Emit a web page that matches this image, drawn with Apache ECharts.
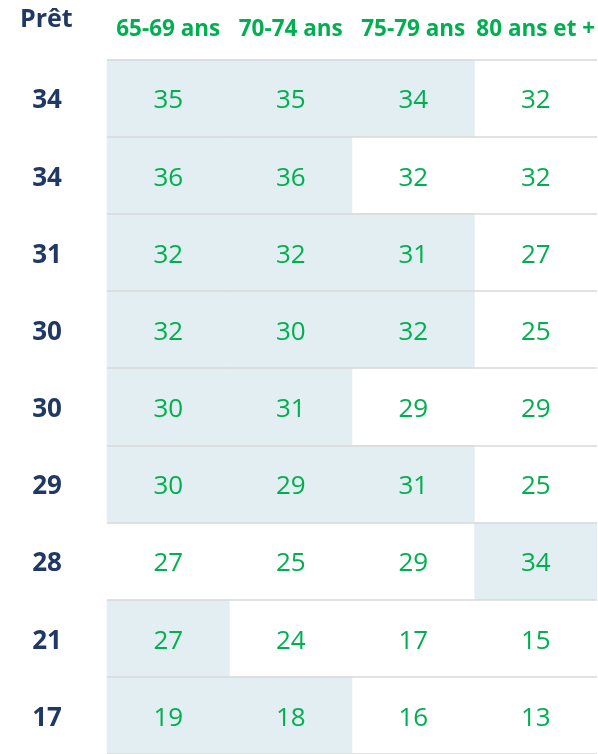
<!DOCTYPE html>
<html>
<head>
<meta charset="utf-8">
<script src="https://cdn.jsdelivr.net/npm/echarts@6/dist/echarts.min.js"></script>
<style>
html,body{margin:0;padding:0;background:#fff;}
#chart{width:598px;height:754px;}
</style>
</head>
<body>
<div id="chart"></div>
<script>
// ---- Data ----
var ageGroups = ['65-69 ans', '70-74 ans', '75-79 ans', '80 ans et +'];
var pretLabel = 'Prêt';
var pret = [34, 34, 31, 30, 30, 29, 28, 21, 17];
var v6569 = [35, 36, 32, 32, 30, 30, 27, 27, 19];
var v7074 = [35, 36, 32, 30, 31, 29, 25, 24, 18];
var v7579 = [34, 32, 31, 32, 29, 31, 29, 17, 16];
var v80p  = [32, 32, 27, 25, 29, 25, 34, 15, 13];
// highlighted (shaded) cells, 1 = shaded
var s6569 = [1, 1, 1, 1, 1, 1, 0, 1, 1];
var s7074 = [1, 1, 1, 1, 1, 1, 0, 0, 1];
var s7579 = [1, 0, 1, 1, 0, 1, 0, 0, 0];
var s80p  = [0, 0, 0, 0, 0, 0, 1, 0, 0];

var values = [v6569, v7074, v7579, v80p];
var shades = [s6569, s7074, s7579, s80p];
var rowIdx = pret.map(function (_, i) { return i; });

var cells = [];
for (var c = 0; c < values.length; c++) {
  for (var r = 0; r < pret.length; r++) {
    cells.push([c, r, shades[c][r], values[c][r]]);
  }
}

var chart = echarts.init(document.getElementById('chart'), null, { renderer: 'canvas' });
chart.setOption({
  animation: false,
  backgroundColor: '#ffffff',
  textStyle: { fontFamily: 'Open Sans' },
  title: {
    text: pretLabel,
    left: 15,
    top: 2,
    textStyle: { fontFamily: 'Open Sans', fontWeight: 'bold', fontSize: 25, color: '#1F3864' }
  },
  grid: { left: 107, right: 0, top: 59.5, bottom: 0, containLabel: false },
  xAxis: {
    type: 'category',
    position: 'top',
    data: ageGroups,
    axisLine: { show: false },
    axisTick: { show: false },
    splitLine: { show: false },
    axisLabel: {
      interval: 0,
      margin: 18,
      color: '#00B050',
      fontFamily: 'Open Sans',
      fontWeight: 'bold',
      fontSize: 22.5
    }
  },
  yAxis: {
    type: 'category',
    inverse: true,
    data: rowIdx,
    z: 5,
    axisLine: { show: false },
    axisTick: { show: false },
    splitLine: { show: true, interval: 0, lineStyle: { color: '#D9D9D9', width: 1.5 } },
    axisLabel: {
      interval: 0,
      margin: 60,
      align: 'center',
      verticalAlign: 'top',
      lineHeight: 6,
      color: '#1F3864',
      fontFamily: 'Open Sans',
      fontWeight: 'bold',
      fontSize: 26,
      formatter: function (v, i) { return String(pret[i]); }
    }
  },
  visualMap: {
    show: false,
    type: 'piecewise',
    seriesIndex: 0,
    dimension: 2,
    pieces: [
      { value: 1, color: '#E2EEF2' },
      { value: 0, color: 'rgba(255,255,255,0)' }
    ]
  },
  series: [{
    type: 'heatmap',
    data: cells,
    encode: { x: 0, y: 1 },
    itemStyle: { borderWidth: 0 },
    emphasis: { disabled: true },
    label: {
      show: true,
      offset: [0, 3],
      color: '#00B050',
      fontFamily: 'Open Sans',
      fontSize: 26,
      formatter: function (p) { return String(p.value[3]); }
    }
  }]
});
</script>
</body>
</html>
